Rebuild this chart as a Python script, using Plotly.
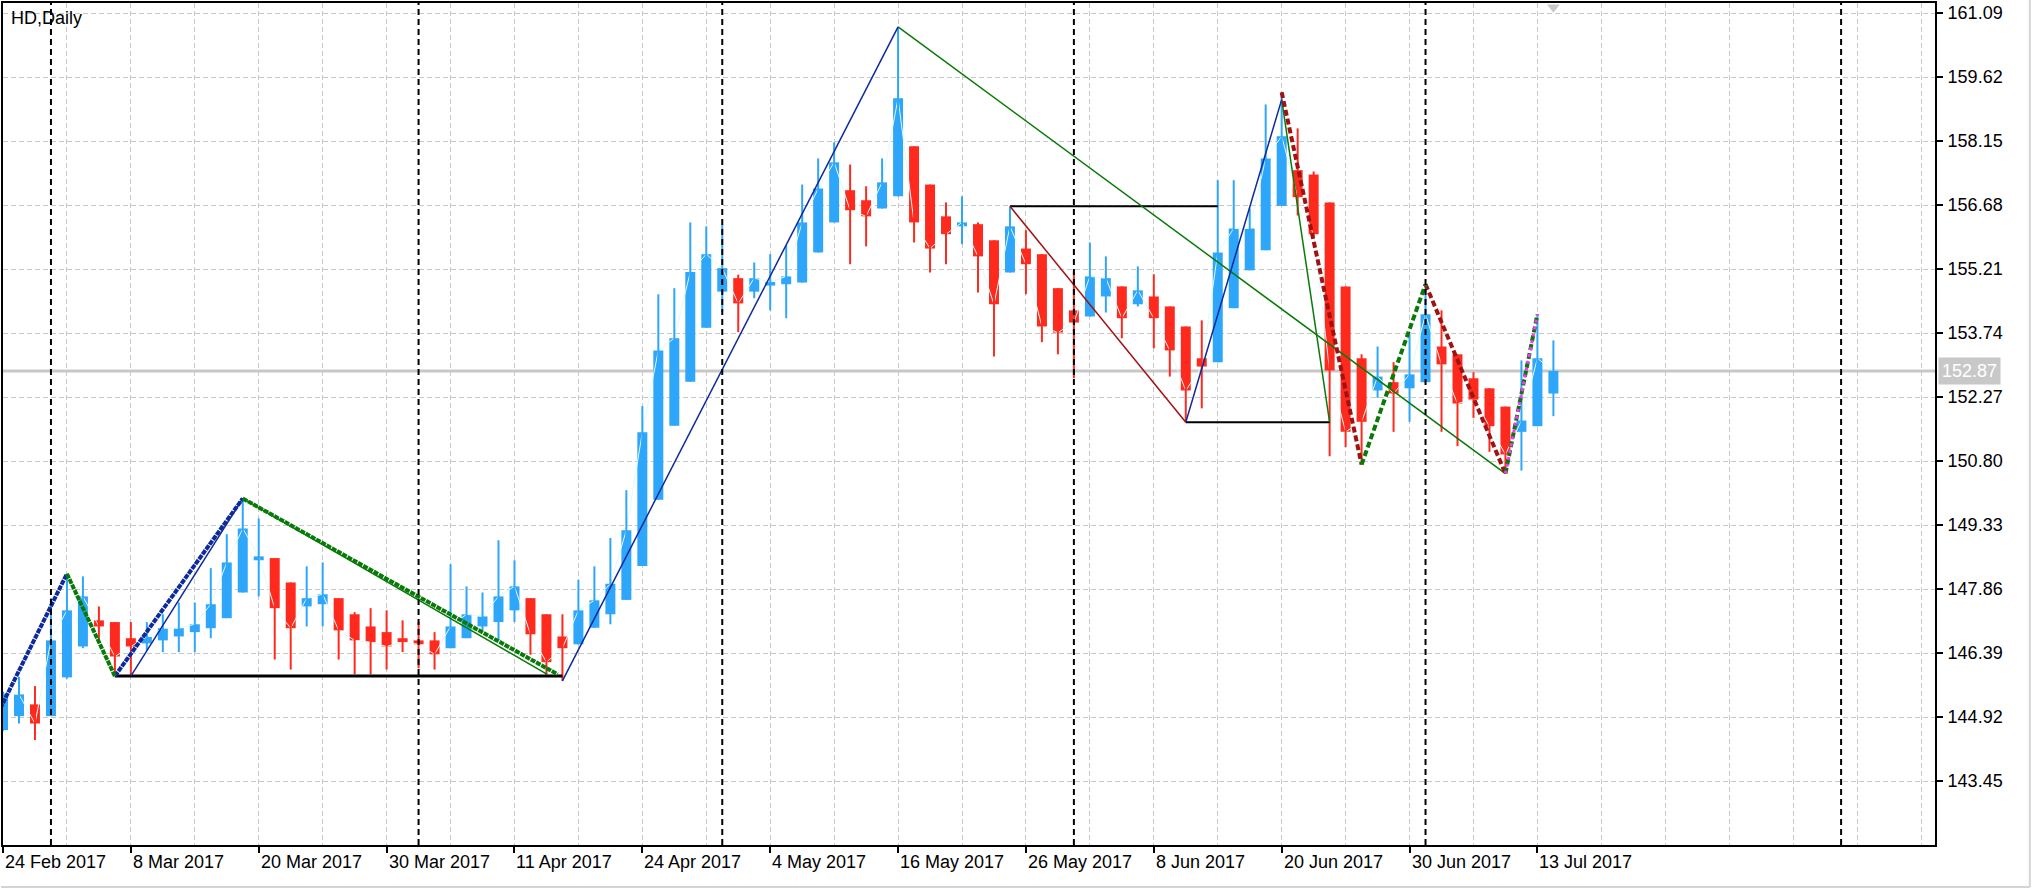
import plotly.graph_objects as go
from datetime import datetime

# ---------------- data ----------------
dates = (
    ["2017-02-24", "2017-02-27", "2017-02-28"]
    + ["2017-03-%02d" % d for d in [1, 2, 3, 6, 7, 8, 9, 10, 13, 14, 15, 16, 17, 20, 21, 22, 23, 24, 27, 28, 29, 30, 31]]
    + ["2017-04-%02d" % d for d in [3, 4, 5, 6, 7, 10, 11, 12, 13, 17, 18, 19, 20, 21, 24, 25, 26, 27, 28]]
    + ["2017-05-%02d" % d for d in [1, 2, 3, 4, 5, 8, 9, 10, 11, 12, 15, 16, 17, 18, 19, 22, 23, 24, 25, 26, 30, 31]]
    + ["2017-06-%02d" % d for d in [1, 2, 5, 6, 7, 8, 9, 12, 13, 14, 15, 16, 19, 20, 21, 22, 23, 26, 27, 28, 29, 30]]
    + ["2017-07-%02d" % d for d in [3, 5, 6, 7, 10, 11, 12, 13, 14]]
)

open_ = [144.62, 144.94, 145.21, 144.94, 145.83, 146.54, 147.14, 147.10, 146.73, 146.61,
         146.68, 146.77, 146.87, 146.96, 147.19, 147.78, 148.52, 148.57, 148.01, 147.46,
         147.51, 147.65, 147.28, 147.00, 146.87, 146.73, 146.68, 146.68, 146.50, 146.73,
         147.00, 147.10, 147.37, 147.65, 147.28, 146.77, 146.59, 146.97, 147.28, 147.61,
         148.39, 149.91, 151.61, 152.62, 153.86, 154.69, 155.00, 154.69, 154.83, 154.86,
         154.90, 155.59, 156.28, 157.02, 156.79, 156.60, 156.88, 158.03, 157.15, 156.42,
         156.19, 156.24, 155.87, 155.13, 155.68, 155.55, 154.77, 154.26, 154.12, 154.58,
         154.81, 154.40, 154.58, 154.35, 153.89, 153.16, 153.07, 154.31, 155.18, 155.64,
         156.66, 157.48, 157.38, 156.74, 154.81, 153.16, 152.42, 152.61, 152.47, 152.61,
         153.43, 153.25, 152.70, 152.47, 152.05, 151.47, 151.60, 152.35]
high = [145.50, 145.84, 145.63, 147.65, 148.21, 148.15, 147.46, 147.10, 147.10, 147.10,
        147.28, 147.55, 147.55, 148.34, 149.12, 149.94, 149.48, 148.57, 148.01, 148.38,
        148.47, 147.65, 147.33, 147.42, 147.37, 147.14, 147.10, 146.87, 148.43, 147.92,
        147.78, 148.98, 148.52, 147.65, 147.28, 147.28, 148.07, 148.38, 149.03, 150.13,
        152.06, 154.63, 154.77, 156.28, 156.19, 156.23, 155.08, 155.36, 155.55, 155.75,
        157.15, 157.75, 158.12, 157.61, 157.11, 157.75, 160.77, 158.03, 157.15, 156.74,
        156.88, 156.28, 155.87, 156.65, 156.10, 155.55, 154.77, 155.13, 155.82, 155.50,
        154.81, 155.27, 155.09, 154.35, 153.89, 154.03, 157.25, 157.25, 156.60, 158.99,
        159.27, 158.44, 157.45, 156.74, 154.81, 153.25, 153.43, 153.07, 153.71, 154.86,
        154.26, 153.25, 152.84, 152.47, 152.05, 153.11, 154.17, 153.57]
low = [144.60, 144.77, 144.39, 144.94, 145.80, 146.50, 146.68, 145.86, 145.86, 146.45,
       146.41, 146.41, 146.41, 146.73, 147.19, 147.78, 147.69, 146.24, 146.01, 147.00,
       147.00, 146.24, 145.90, 145.90, 146.01, 146.41, 146.04, 146.01, 146.50, 146.73,
       146.91, 146.68, 147.10, 146.35, 145.88, 145.75, 146.59, 146.97, 147.05, 147.61,
       148.39, 149.91, 151.61, 152.62, 153.86, 154.22, 153.76, 154.54, 154.26, 154.08,
       154.90, 155.59, 156.28, 155.32, 155.73, 156.60, 156.88, 155.82, 155.13, 155.32,
       155.78, 154.67, 153.20, 155.13, 154.63, 153.53, 153.25, 152.70, 154.12, 154.21,
       153.62, 154.35, 153.39, 152.74, 151.69, 152.01, 153.07, 154.31, 155.18, 155.64,
       156.66, 156.44, 155.95, 150.91, 151.12, 150.72, 152.25, 151.47, 151.70, 152.61,
       151.47, 151.14, 151.79, 151.01, 150.51, 150.58, 151.60, 151.83]
close = [145.47, 145.44, 144.77, 146.68, 147.37, 147.69, 147.00, 146.31, 146.54, 146.76,
         146.96, 146.96, 147.05, 147.51, 148.47, 149.25, 148.61, 147.42, 146.96, 147.65,
         147.74, 146.91, 146.68, 146.64, 146.54, 146.64, 146.59, 146.36, 147.00, 147.28,
         147.23, 147.69, 147.92, 146.82, 146.18, 146.50, 147.37, 147.60, 147.98, 149.21,
         151.46, 153.34, 153.62, 155.14, 155.55, 155.23, 154.42, 155.00, 154.91, 155.04,
         156.28, 157.06, 157.66, 156.56, 156.42, 157.20, 159.13, 156.28, 155.68, 156.01,
         156.28, 155.50, 154.40, 156.19, 155.32, 153.89, 153.75, 153.98, 155.04, 155.00,
         154.08, 154.72, 154.08, 153.34, 152.42, 152.97, 155.59, 156.14, 156.14, 157.75,
         158.26, 156.86, 156.01, 152.88, 151.47, 151.70, 152.74, 152.35, 152.79, 154.17,
         153.02, 152.12, 152.21, 151.60, 150.95, 151.73, 153.16, 152.87]

price_ticks = [143.45, 144.92, 146.39, 147.86, 149.33, 150.80, 152.27, 153.74,
               155.21, 156.68, 158.15, 159.62, 161.09]
last_price = 152.87
future_separator_bar = 115   # month separator drawn in the empty future area

# drawn objects: (bar index, price) vertices, segments separated by None
thick_navy_x = [-0.5, 4, None, 7, 15]
thick_navy_y = [144.87, 148.21, None, 145.86, 149.94]
thin_navy_x = [8, 15, None, 35, 56, None, 74, 80]
thin_navy_y = [145.86, 149.94, None, 145.75, 160.77, None, 151.69, 159.10]
thick_green_x = [4, 7, None, 15, 34.7]
thick_green_y = [148.21, 145.86, None, 149.94, 145.90]
thin_green_x = [15, 34.05, None, 56, 94, None, 80, 83]
thin_green_y = [149.94, 145.90, None, 160.77, 150.51, None, 159.10, 151.69]
thick_black_x = [7, 35]
thick_black_y = [145.86, 145.86]
thin_black_x = [63, 76, None, 74, 83]
thin_black_y = [156.65, 156.65, None, 151.69, 151.69]
thin_red_x = [63, 74]
thin_red_y = [156.65, 151.69]
dash_red_x = [80, 85, None, 89, 94]
dash_red_y = [159.27, 150.72, None, 154.86, 150.51]
dash_green_x = [85, 89, None, 94, 96]
dash_green_y = [150.72, 154.86, None, 150.51, 154.17]
dash_magenta_x = [94, 96]
dash_magenta_y = [150.51, 154.17]

# ---------------- styling ----------------
BLUE = "#2EA6FA"
RED = "#FF2A1E"
NAVY = "#0D2A9C"
GREEN = "#087A08"
DKRED = "#A01212"
GRID = "#C8C8C8"
FONT = "Liberation Sans"
BODY_W = 0.625

n = len(dates)
xs = list(range(n))
dts = [datetime.strptime(d, "%Y-%m-%d") for d in dates]

fig = go.Figure()

# faint close line
fig.add_trace(go.Scatter(x=xs, y=close, mode="lines",
                         line=dict(color="#DDFBFB", width=1), hoverinfo="skip"))

# candles: wicks + bodies, split by direction
for up, col in ((True, BLUE), (False, RED)):
    idx = [i for i in xs if (close[i] >= open_[i]) == up]
    wx, wy = [], []
    for i in idx:
        wx += [i, i, None]
        wy += [low[i], high[i], None]
    fig.add_trace(go.Scatter(x=wx, y=wy, mode="lines", line=dict(color=col, width=2),
                             hoverinfo="skip"))
    fig.add_trace(go.Bar(x=idx,
                         base=[min(open_[i], close[i]) for i in idx],
                         y=[max(abs(close[i] - open_[i]), 0.03) for i in idx],
                         width=BODY_W, marker=dict(color=col, line=dict(width=0)),
                         hoverinfo="skip"))


def line(x, y, color, width, dash="solid"):
    fig.add_trace(go.Scatter(x=x, y=y, mode="lines", connectgaps=False,
                             line=dict(color=color, width=width, dash=dash),
                             hoverinfo="skip"))


line(thick_black_x, thick_black_y, "black", 3)
line(thin_black_x, thin_black_y, "black", 2)
line(thin_green_x, thin_green_y, GREEN, 1.5)
line(thin_navy_x, thin_navy_y, NAVY, 1.5)
line(thin_red_x, thin_red_y, DKRED, 1.5)
line(thick_navy_x, thick_navy_y, NAVY, 4, "5px,1px")
line(thick_green_x, thick_green_y, GREEN, 4, "5px,1px")
line(dash_red_x, dash_red_y, DKRED, 4, "6px,3px")
line(dash_green_x, dash_green_y, GREEN, 4, "6px,3px")
line(dash_magenta_x, dash_magenta_y, "#FF33FF", 3, "3px,4px")

# chart shift marker
fig.add_trace(go.Scatter(x=[n - 1], y=[161.22], mode="markers",
                         marker=dict(symbol="triangle-down", size=11, color=GRID),
                         cliponaxis=False, hoverinfo="skip"))

# month separators
sep_bars = [i for i in range(1, n) if dts[i].month != dts[i - 1].month] + [future_separator_bar]
for b in sep_bars:
    fig.add_shape(type="line", xref="x", yref="paper", x0=b, x1=b, y0=0, y1=1,
                  line=dict(color="black", width=2, dash="6px,4px"), layer="above")

# current price line
fig.add_shape(type="line", xref="paper", yref="y", x0=0, x1=1, y0=last_price, y1=last_price,
              line=dict(color=GRID, width=3), layer="below")

# date labels
label_bars = list(range(0, n, 8))
for b in label_bars:
    d = dts[b]
    fig.add_annotation(x=b, y=0, xref="x", yref="paper", text=f"{d.day} {d.strftime('%b')} {d.year}",
                       showarrow=False, xanchor="left", yanchor="middle", yshift=-17, xshift=0,
                       font=dict(family=FONT, size=18, color="black"))

fig.add_annotation(x=0, y=1, xref="paper", yref="paper", text="HD,Daily", showarrow=False,
                   xanchor="left", yanchor="top", xshift=6, yshift=-3,
                   font=dict(family=FONT, size=18, color="black"))

fig.add_annotation(x=1, y=last_price, xref="paper", yref="y", text=f"{last_price:.2f}",
                   showarrow=False, xanchor="left", yanchor="middle", xshift=3,
                   bgcolor=GRID, borderpad=3, font=dict(family=FONT, size=18, color="white"))

# window border lines
fig.add_shape(type="line", xref="paper", yref="paper", x0=-0.001, x1=1.0491, y0=-0.0499, y1=-0.0499,
              line=dict(color="#D4D4D4", width=2))
fig.add_shape(type="line", xref="paper", yref="paper", x0=1.0491, x1=1.0491, y0=-0.0499, y1=1.004,
              line=dict(color="#D4D4D4", width=2))

fig.update_layout(
    width=2034, height=890,
    margin=dict(l=1, r=99, t=3, b=45),
    paper_bgcolor="white", plot_bgcolor="white",
    showlegend=False, hovermode=False, barmode="overlay",
    font=dict(family=FONT, size=18, color="black"),
    xaxis=dict(range=[0, 120.875],
               tickvals=label_bars, ticktext=[""] * len(label_bars),
               ticks="outside", ticklen=6, tickwidth=2, tickcolor="black",
               showgrid=True, gridcolor=GRID, griddash="5px,3px", gridwidth=1,
               minor=dict(tickvals=list(range(0, 121, 4)), showgrid=True, gridcolor=GRID,
                          griddash="5px,3px", gridwidth=1, ticks=""),
               showline=True, linecolor="black", linewidth=2, mirror=True, zeroline=False),
    yaxis=dict(range=[141.98, 161.32], side="right",
               tickvals=price_ticks, ticktext=[f"{v:.2f}" for v in price_ticks],
               ticks="outside", ticklen=6, tickwidth=2, tickcolor="black",
               ticklabelstandoff=1,
               showgrid=True, gridcolor=GRID, griddash="5px,3px", gridwidth=1,
               showline=True, linecolor="black", linewidth=2, mirror=True, zeroline=False,
               tickfont=dict(family=FONT, size=18, color="black")),
)

fig.write_html("out.html", config={"displayModeBar": False},
               post_script="document.body.style.margin='0px';")
